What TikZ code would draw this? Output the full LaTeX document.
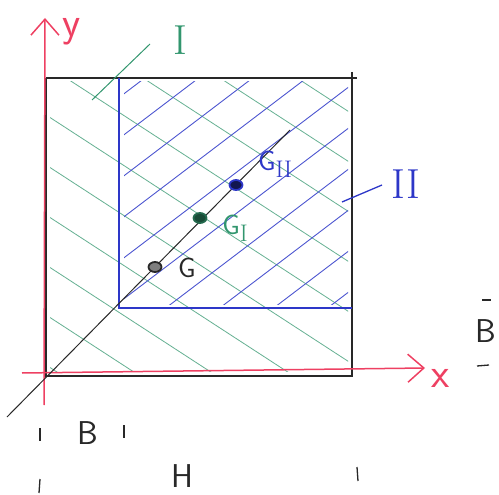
\documentclass[tikz,border=0pt]{standalone}
\usepackage{fontspec}
\usetikzlibrary{arrows.meta,shapes.geometric}
\definecolor{axred}{RGB}{238,64,98}
\definecolor{hgreen}{RGB}{50,150,110}
\definecolor{hblue}{RGB}{45,55,200}
\definecolor{ink}{RGB}{40,40,40}
\tikzset{
  axis/.style={axred,line width=1.5pt,-{Straight Barb[length=16pt,width=28pt,line width=1.5pt]}},
  frame/.style={ink,line width=1.2pt},
  blueedge/.style={hblue,line width=2.2pt},
  ghatch/.style={hgreen!75,line width=0.8pt},
  bhatch/.style={hblue!85,line width=0.9pt},
  lbl/.style={inner sep=0pt,font=\sffamily\fontsize{33}{33}\selectfont},
  axlbl/.style={inner sep=0pt,font=\sffamily\fontsize{42}{42}\selectfont},
  roman/.style={inner sep=0pt,font=\rmfamily\fontsize{42}{42}\selectfont},
  glbl/.style={inner sep=0pt,font=\sffamily\fontsize{28}{28}\selectfont},
  tick/.style={ink,line width=1.3pt},
  dot/.style={ellipse,minimum width=13pt,minimum height=10pt,inner sep=0pt,line width=1.8pt}
}
\newcommand{\sbrm}[1]{\raisebox{-7pt}{\rmfamily\fontsize{24}{24}\selectfont #1}}
\begin{document}
\begin{tikzpicture}[x=1pt,y=-1pt]
\useasboundingbox (0,0) rectangle (499,495);
% hatching, green over whole square
\begin{scope}
\clip (50,82) rectangle (348,371);
\foreach \c in {-165,-115,-65,-15,35,85,135,185,235,285,335}
  \draw[ghatch] (0,\c) -- (499,{\c+0.65*499});
\end{scope}
% blue hatching in region II
\begin{scope}
\clip (124,82) rectangle (348,304);
\foreach \d in {188,229,270,311,352,393,434,475,516,557}
  \draw[bhatch] (0,\d) -- (499,{\d-0.76*499});
\end{scope}
% outer square
\coordinate (tl) at (46,78);
\coordinate (tr) at (352,78);
\coordinate (br) at (352,376);
\coordinate (bl) at (46,376);
\draw[frame] (tl) -- (357,78);
\draw[frame] (352,72) -- (br) -- (bl) -- (tl);
% blue inner edges
\coordinate (ic) at (119,308);
\draw[blueedge] (119,78) -- (ic) -- (352,308);
% axes
\coordinate (xs) at (22,373);
\coordinate (xe) at (425,368);
\coordinate (ys) at (44,405);
\coordinate (ye) at (45,18);
\draw[axis] (xs) -- (xe);
\draw[axis] (ys) -- (ye);
\node[axlbl,text=axred] (ylab) at (72,32) {y};
\node[axlbl,text=axred] (xlab) at (441,378) {x};
% diagonal
\coordinate (d1) at (7,417);
\coordinate (d2) at (290,130);
\draw[ink,line width=1pt] (d1) -- (d2);
% centroids
\node[dot,draw=ink,fill=ink!60] (G) at (155,267) {};
\node[dot,draw=hgreen!70!black,fill=hgreen!50!black] (GI) at (200,218) {};
\node[dot,draw=hblue,fill=hblue!40!black] (GII) at (236,185) {};
\node[glbl,text=ink] (Glab) at (187,268) {G};
\node[glbl,text=hgreen] (GIlab) at (235,228) {G\sbrm{I}};
\node[glbl,text=hblue] (GIIlab) at (275,164) {G\sbrm{II}};
% region labels
\node[roman,text=hgreen] (Ilab) at (180,40) {I};
\coordinate (Ia) at (92,100);
\coordinate (Ib) at (150,44);
\draw[hgreen,line width=1pt] (Ia) -- (Ib);
\node[roman,text=hblue] (IIlab) at (406,184) {II};
\coordinate (IIa) at (342,202);
\coordinate (IIb) at (382,185);
\draw[hblue,line width=1.3pt] (IIa) -- (IIb);
% dimensions
\node[lbl,text=ink] (Bb) at (88,433) {B};
\draw[tick] (40,428) -- (40,441);
\draw[tick] (124,425) -- (124,438);
\node[lbl,text=ink] (Hh) at (182,476) {H};
\draw[tick] (40,479) -- (39,493);
\draw[tick] (357,467) -- (358,481);
\node[lbl,text=ink] (Br) at (486,331) {B};
\draw[tick] (482,300) -- (491,300);
\draw[tick] (477,366) -- (489,365);
\end{tikzpicture}
\end{document}
